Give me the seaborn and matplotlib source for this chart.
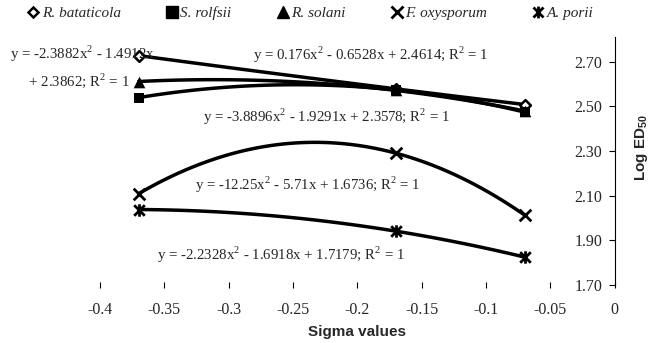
import matplotlib
matplotlib.use("Agg")
import matplotlib.pyplot as plt
from matplotlib.lines import Line2D
from matplotlib.path import Path
import seaborn as sns

# Hammett sigma values and log ED50 for each fungus
sigma = [-0.37, -0.17, -0.07]
r_bataticola = [2.727, 2.578, 2.508]
s_rolfsii = [2.539, 2.573, 2.474]
r_solani = [2.611, 2.571, 2.479]
f_oxysporum = [2.109, 2.290, 2.013]
a_porii = [2.038, 1.941, 1.825]

names = ["R. bataticola", "S. rolfsii", "R. solani", "F. oxysporum", "A. porii"]
equations = [
    "y = 0.176x$^2$ - 0.6528x + 2.4614; R$^2$ = 1",
    "y = -3.8896x$^2$ - 1.9291x + 2.3578; R$^2$ = 1",
    "y = -2.3882x$^2$ - 1.4912x\n     + 2.3862; R$^2$ = 1",
    "y = -12.25x$^2$ - 5.71x + 1.6736; R$^2$ = 1",
    "y = -2.2328x$^2$ - 1.6918x + 1.7179; R$^2$ = 1",
]
x_ticks = [-0.4, -0.35, -0.3, -0.25, -0.2, -0.15, -0.1, -0.05, 0]
x_tick_labels = ["-0.4", "-0.35", "-0.3", "-0.25", "-0.2", "-0.15", "-0.1", "-0.05", "0"]
y_ticks = [1.70, 1.90, 2.10, 2.30, 2.50, 2.70]

sns.set_theme(style="white")
plt.rcParams["font.family"] = ["Liberation Serif", "DejaVu Serif"]
plt.rcParams["mathtext.fontset"] = "custom"
plt.rcParams["mathtext.rm"] = "Liberation Serif"
plt.rcParams["mathtext.bf"] = "Liberation Sans:bold"

# "Star" marker: an X crossed by a vertical bar
star = Path(
    [(0, -1), (0, 1), (-0.85, -0.85), (0.85, 0.85), (-0.85, 0.85), (0.85, -0.85)],
    [Path.MOVETO, Path.LINETO, Path.MOVETO, Path.LINETO, Path.MOVETO, Path.LINETO],
)

fig = plt.figure(figsize=(6.54, 3.43), dpi=100)
ax = fig.add_axes([0.153, 0.169, 0.787, 0.723])

series = [r_bataticola, s_rolfsii, r_solani, f_oxysporum, a_porii]
marker_styles = [
    dict(marker="D", s=30, facecolor="white", edgecolor="black", linewidth=1.8),
    dict(marker="s", s=60, color="black", edgecolor="black", linewidth=0),
    dict(marker="^", s=70, color="black", edgecolor="black", linewidth=0),
    dict(marker="x", s=70, color="black", linewidth=2.0),
    dict(marker=star, s=80, color="black", edgecolor="black", linewidth=2.0),
]

for y, mk in zip(series, marker_styles):
    # second-order polynomial trendline through the three points
    sns.regplot(x=sigma, y=y, order=2, ci=None, ax=ax, truncate=True,
                scatter=False, line_kws=dict(color="black", lw=2.5, zorder=3))
    sns.scatterplot(x=sigma, y=y, ax=ax, zorder=4, legend=False, **mk)

# Trendline equations
eq_pos = [(253, 55), (203, 117), (10, 67), (195, 185), (157, 255)]
for txt, (px, py) in zip(equations, eq_pos):
    fig.text(px / 654, 1 - py / 343, txt, fontsize=10.7, ha="left", va="center",
             linespacing=1.5 if "\n" in txt else 1.2)

ax.set_xlim(-0.4, 0)
ax.set_ylim(1.70, 2.81)
ax.set_xticks(x_ticks)
ax.set_xticklabels(x_tick_labels)
ax.set_yticks(y_ticks)
ax.set_yticklabels([f"{v:.2f}" for v in y_ticks])

for side in ["top", "right", "bottom"]:
    ax.spines[side].set_visible(False)
ax.spines["left"].set_position(("data", 0))
ax.spines["left"].set_color("black")
ax.spines["left"].set_linewidth(0.8)

ax.tick_params(axis="x", direction="inout", length=5, width=0.8, color="black",
               pad=10, labelsize=11.5, bottom=True)
ax.tick_params(axis="y", direction="out", length=4, width=0.8, color="black",
               pad=5, labelsize=11.5, left=True)

ax.set_xlabel("Sigma values", family=["Liberation Sans"], fontweight="bold",
              fontsize=11, labelpad=5)
ax.set_ylabel("")
fig.text(642 / 654, 1 - 148 / 343, r"Log ED$_{\mathbf{50}}$", rotation=90,
         ha="center", va="center", family=["Liberation Sans"],
         fontweight="bold", fontsize=11)

handles = [
    Line2D([], [], ls="none", marker="D", ms=5.5, mfc="white", mec="black", mew=1.8),
    Line2D([], [], ls="none", marker="s", ms=8, color="black"),
    Line2D([], [], ls="none", marker="^", ms=8.5, color="black"),
    Line2D([], [], ls="none", marker="x", ms=8, color="black", mew=2.0),
    Line2D([], [], ls="none", marker=star, ms=8.5, color="black", mew=2.0),
]
fig.legend(handles, names, loc="center left", bbox_to_anchor=(0.043, 1 - 13 / 343),
           ncol=5, frameon=False, handlelength=0.7, handletextpad=0.2,
           columnspacing=3.0, prop=dict(style="italic", size=11),
           borderaxespad=0, borderpad=0)

fig.savefig("out.png", dpi=100)
